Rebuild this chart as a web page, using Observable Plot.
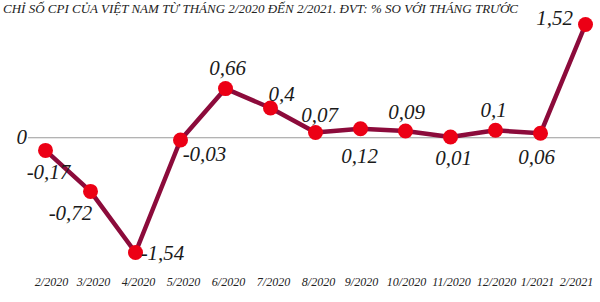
<!DOCTYPE html>
<html>
<head>
<meta charset="utf-8">
<script src="https://cdn.jsdelivr.net/npm/d3@7"></script>
<script src="https://cdn.jsdelivr.net/npm/@observablehq/plot@0.6"></script>
<style>
  html, body { margin: 0; padding: 0; background: #fff; }
  #wrap { position: relative; width: 600px; height: 302px; overflow: hidden; }
  #title { position: absolute; top: 2px; left: 3px; font-family: "Liberation Serif", serif; font-style: italic; font-size: 13px; line-height: 13px; color: #222; white-space: nowrap; z-index: 2; }
</style>
</head>
<body>
<div id="wrap">
  <div id="title"></div>
</div>
<script>
const months = ["2/2020","3/2020","4/2020","5/2020","6/2020","7/2020","8/2020","9/2020","10/2020","11/2020","12/2020","1/2021","2/2021"];
const values = [-0.17, -0.72, -1.54, -0.03, 0.66, 0.4, 0.07, 0.12, 0.09, 0.01, 0.1, 0.06, 1.52];
const titleText = "CHỈ SỐ CPI CỦA VIỆT NAM TỪ THÁNG 2/2020 ĐẾN 2/2021. ĐVT: % SO VỚI THÁNG TRƯỚC";

document.getElementById("title").textContent = titleText;

const data = months.map((m, i) => ({month: m, value: values[i]}));
const fmt = v => String(v).replace(".", ",");

// label offsets (layout only)
const offsets = {
  "2/2020": [3, 22], "3/2020": [-20, 22], "4/2020": [27, 1], "5/2020": [24, 14],
  "6/2020": [2, -20], "7/2020": [11, -14], "8/2020": [4, -17], "9/2020": [-1, 27],
  "10/2020": [1, -19], "11/2020": [3, 21], "12/2020": [-2, -20], "1/2021": [-4, 24],
  "2/2021": [-31, -6]
};
// tick label nudges (layout only): [first index, last index, dx]
const tickGroups = [[0, 0, 6], [1, 6, 3], [7, 10, 1], [11, 11, -3], [12, 12, -9]];

const font = "'Liberation Serif', serif";
const labelMarks = data.map(d => Plot.text([d], {
  x: "month", y: "value", text: d => fmt(d.value),
  dx: offsets[d.month][0], dy: offsets[d.month][1],
  fontSize: 21, fontStyle: "italic", fill: "#1a1a1a", fontFamily: font
}));
const axisMarks = tickGroups.map(([a, b, dx]) => Plot.axisX(months.slice(a, b + 1), {
  tickSize: 0, tickPadding: 25, dx, fontSize: 12, fontStyle: "italic", fill: "#222", fontFamily: font, label: null
}));

const chart = Plot.plot({
  width: 600, height: 302,
  marginLeft: 43, marginRight: 13, marginTop: 24, marginBottom: 50,
  style: {fontFamily: font, background: "transparent"},
  x: {type: "point", domain: months, label: null, padding: 0, axis: null},
  y: {domain: [-1.54, 1.52], axis: null},
  marks: [
    Plot.ruleY([0], {stroke: "#9a9a9a", strokeWidth: 1, insetLeft: -15, insetRight: -13}),
    Plot.text([0], {y: d => d, text: () => "0", frameAnchor: "left", dx: -27, fontSize: 21, fontStyle: "italic", fill: "#1a1a1a", fontFamily: font}),
    Plot.line(data, {x: "month", y: "value", stroke: "#8c0b3b", strokeWidth: 4.5, strokeLinejoin: "miter"}),
    Plot.dot(data, {x: "month", y: "value", r: 7.5, fill: "#ec0015", stroke: "none"}),
    ...labelMarks,
    ...axisMarks
  ]
});
document.getElementById("wrap").appendChild(chart);
</script>
</body>
</html>
